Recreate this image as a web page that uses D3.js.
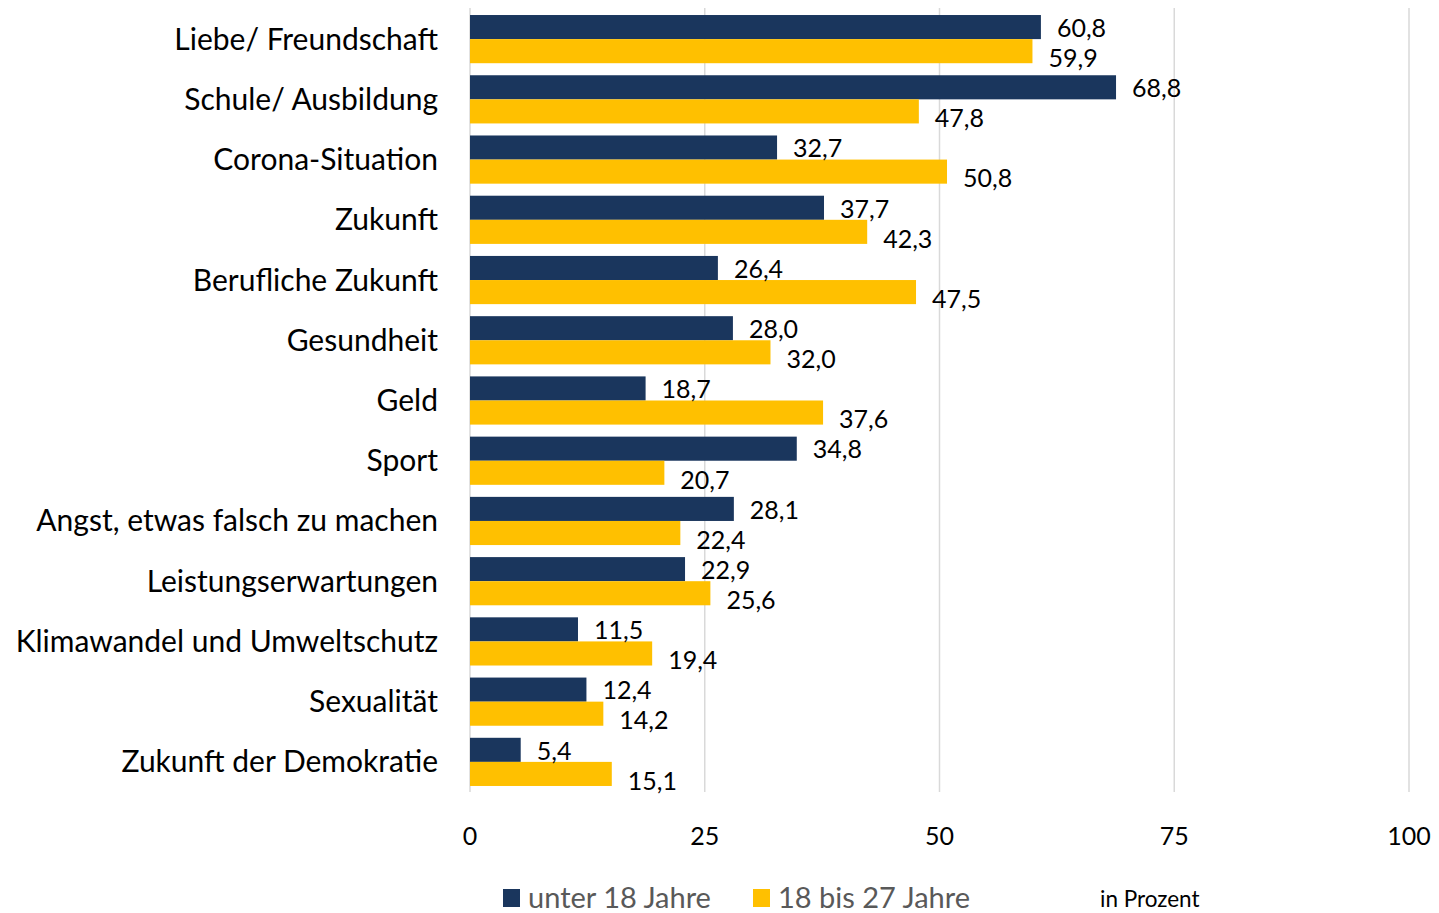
<!DOCTYPE html>
<meta charset="utf-8">
<head>
<title>Sorgen</title>
<style>
body { margin: 0; background: #fff; }
text { font-family: Lato, "Open Sans", sans-serif; }
.grid line { stroke: #d9d9d9; stroke-width: 1.5; }
</style>
</head>
<body>
<div id="chart"></div>
<script src="https://cdnjs.cloudflare.com/ajax/libs/d3/7.8.5/d3.min.js"></script>
<script>
var categories = ["Liebe/ Freundschaft", "Schule/ Ausbildung", "Corona-Situation", "Zukunft",
	"Berufliche Zukunft", "Gesundheit", "Geld", "Sport", "Angst, etwas falsch zu machen",
	"Leistungserwartungen", "Klimawandel und Umweltschutz", "Sexualität", "Zukunft der Demokratie"];
var under18 = [60.8, 68.8, 32.7, 37.7, 26.4, 28.0, 18.7, 34.8, 28.1, 22.9, 11.5, 12.4, 5.4];
var age18to27 = [59.9, 47.8, 50.8, 42.3, 47.5, 32.0, 37.6, 20.7, 22.4, 25.6, 19.4, 14.2, 15.1];
var ticks = [0, 25, 50, 75, 100];
var seriesNames = ["unter 18 Jahre", "18 bis 27 Jahre"];
var colors = ["#1a365d", "#ffc000"];

var width = 1439,
	height = 913;

var svg = d3.select("#chart").append("svg")
	.attr("width", width)
	.attr("height", height);

var x = d3.scaleLinear().domain([0, 100]).range([470, 1409]);
var y = d3.scaleBand().domain(categories).range([9, 792]).paddingInner(0.2).paddingOuter(0.1);
var sub = d3.scaleBand().domain([0, 1]).range([0, y.bandwidth()]);

// gridlines
svg.append("g").attr("class", "grid")
	.selectAll("line").data(ticks).enter().append("line")
	.attr("x1", function(d) { return x(d); })
	.attr("x2", function(d) { return x(d); })
	.attr("y1", 8).attr("y2", 792);

// tick labels
svg.append("g").selectAll("text").data(ticks).enter().append("text")
	.attr("x", function(d) { return x(d); })
	.attr("y", 836)
	.attr("dy", "0.35em")
	.attr("text-anchor", "middle")
	.attr("font-size", 25)
	.attr("fill", "#000")
	.text(function(d) { return d; });

// category labels
svg.append("g").selectAll("text").data(categories).enter().append("text")
	.attr("x", 438)
	.attr("y", function(d) { return y(d) + y.bandwidth() / 2; })
	.attr("dy", "0.35em")
	.attr("text-anchor", "end")
	.attr("font-size", 30)
	.attr("fill", "#000")
	.text(function(d) { return d; });

var rows = categories.map(function(c, i) {
	return { cat: c, vals: [under18[i], age18to27[i]] };
});

var fmt = function(v) { return v.toFixed(1).replace(".", ","); };
var labelShift = [1, 7];

var groups = svg.append("g").selectAll("g").data(rows).enter().append("g")
	.attr("transform", function(d) { return "translate(0," + y(d.cat) + ")"; });

groups.selectAll("rect").data(function(d) { return d.vals; }).enter().append("rect")
	.attr("x", x(0))
	.attr("y", function(d, i) { return sub(i); })
	.attr("width", function(d) { return x(d) - x(0); })
	.attr("height", sub.bandwidth())
	.attr("fill", function(d, i) { return colors[i]; });

groups.selectAll("text").data(function(d) { return d.vals; }).enter().append("text")
	.attr("x", function(d) { return x(d) + 16; })
	.attr("y", function(d, i) { return sub(i) + sub.bandwidth() / 2 + labelShift[i]; })
	.attr("dy", "0.35em")
	.attr("font-size", 25)
	.attr("fill", "#000")
	.text(fmt);

// legend
var legendX = [503, 753];
var legend = svg.append("g").selectAll("g").data(seriesNames).enter().append("g")
	.attr("transform", function(d, i) { return "translate(" + legendX[i] + ",889)"; });
legend.append("rect")
	.attr("width", 17).attr("height", 18)
	.attr("fill", function(d, i) { return colors[i]; });
legend.append("text")
	.attr("x", 25).attr("y", 9).attr("dy", "0.35em")
	.attr("font-size", 29)
	.attr("fill", "#595959")
	.text(function(d) { return d; });

svg.append("text")
	.attr("x", 1100).attr("y", 899).attr("dy", "0.35em")
	.attr("font-size", 22.5)
	.attr("fill", "#000")
	.text("in Prozent");
</script>
</body>
